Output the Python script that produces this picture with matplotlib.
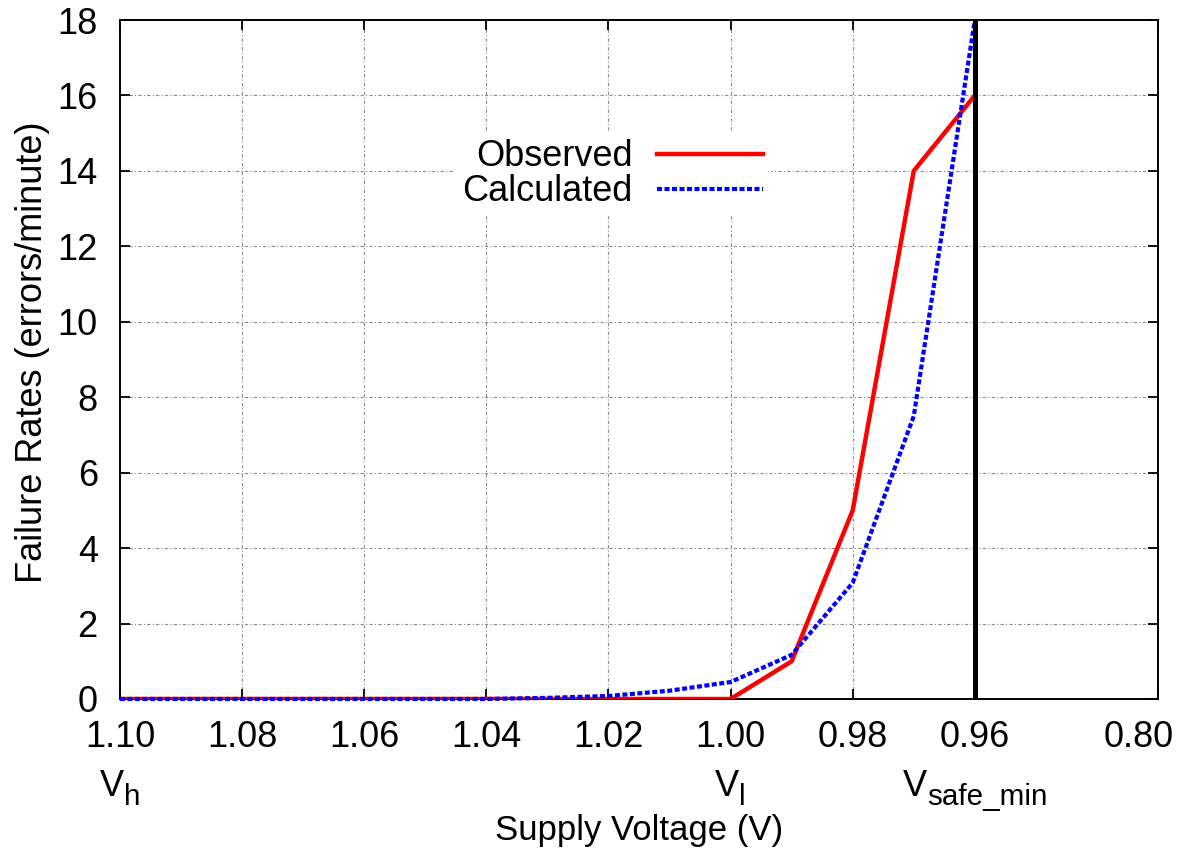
import matplotlib
matplotlib.use("Agg")
import matplotlib.pyplot as plt
import matplotlib.transforms as mtransforms

plt.rcParams['font.family'] = ['Liberation Sans', 'DejaVu Sans']

# supply voltage steps (V), high to low
VOLTS = [1.10, 1.09, 1.08, 1.07, 1.06, 1.05, 1.04, 1.03,
         1.02, 1.01, 1.00, 0.99, 0.98, 0.97, 0.96]
OBSERVED = [0, 0, 0, 0, 0, 0, 0, 0, 0, 0, 0, 1, 5, 14, 16]
CALCULATED = [0, 0, 0, 0, 0, 0, 0, 0.03, 0.08, 0.22, 0.45, 1.17, 3.08, 7.5, 18]

TICK_VOLTS = [1.10, 1.08, 1.06, 1.04, 1.02, 1.00, 0.98, 0.96]
BREAK_VOLT = 0.93          # axis end, labelled as 0.80
BREAK_LABEL = "0.80"
V_SAFE_MIN = 0.96
NAMED_VOLTS = [1.10, 1.00, 0.96]
NAMED_SUBS = ["h", "l", "safe_min"]
Y_TICKS = [0, 2, 4, 6, 8, 10, 12, 14, 16, 18]

FS = 26
DPI = 100

fig = plt.figure(figsize=(11.8, 8.58), dpi=DPI)
ax = fig.add_axes([120 / 1180, 1 - 699 / 858, 1038 / 1180, 679 / 858])

ax.plot(VOLTS, OBSERVED, color='red', lw=3.2, label='Observed',
        solid_joinstyle='miter', zorder=3)
ax.plot(VOLTS, CALCULATED, color='blue', lw=3.0, ls=(0, (1.2, 0.6)),
        label='Calculated', zorder=4, clip_on=False)
ax.axvline(V_SAFE_MIN, color='black', lw=3.6, zorder=5)

ax.set_xlim(1.10, BREAK_VOLT)
ax.set_ylim(0, 18)

ax.set_xticks(TICK_VOLTS + [BREAK_VOLT])
ax.set_xticklabels(["%.2f" % v for v in TICK_VOLTS] + [BREAK_LABEL])
ax.set_yticks(Y_TICKS)
ax.tick_params(direction='in', length=7, width=1.3, labelsize=FS,
               top=True, right=True)
ax.tick_params(axis='x', pad=15)
ax.tick_params(axis='y', pad=16)
# nudge the last (break) label so it stays inside the figure
last = ax.get_xticklabels()[-1]
last.set_transform(last.get_transform() +
                   mtransforms.ScaledTranslation(-19 / DPI, 0, fig.dpi_scale_trans))

for s in ax.spines.values():
    s.set_linewidth(1.4)

grid_kw = dict(color='#8a8a8a', lw=0.8, ls=(0, (3, 2, 1, 2)), zorder=1)
for v in TICK_VOLTS[1:]:
    ax.axvline(v, **grid_kw)
for y in Y_TICKS[1:-1]:
    ax.axhline(y, **grid_kw)

# voltage names (V with a large subscript) under the tick labels
trans = mtransforms.blended_transform_factory(ax.transData, ax.transAxes)
renderer = fig.canvas.get_renderer()
for v, sub in zip(NAMED_VOLTS, NAMED_SUBS):
    tm = ax.text(v, -0.1428, "V", transform=trans, ha='left', va='baseline',
                 fontsize=FS)
    ts = ax.text(v, -0.1428, sub, transform=trans, ha='left', va='baseline',
                 fontsize=FS * 0.82)
    wm = tm.get_window_extent(renderer).width
    ws = ts.get_window_extent(renderer).width
    x0 = -(wm + ws) / 2
    tm.set_transform(trans + mtransforms.ScaledTranslation(
        x0 / DPI, 0, fig.dpi_scale_trans))
    ts.set_transform(trans + mtransforms.ScaledTranslation(
        (x0 + wm) / DPI, -9 / DPI, fig.dpi_scale_trans))

ax.set_xlabel("Supply Voltage (V)", fontsize=25)
ax.xaxis.set_label_coords(0.5, -0.2077)
ax.xaxis.label.set_va('baseline')
ax.set_ylabel("Failure Rates (errors/minute)", fontsize=FS)
ax.yaxis.set_label_coords(-0.067, 0.51)

leg = ax.legend(loc='upper left', bbox_to_anchor=(0.323, 0.835),
                fontsize=FS, markerfirst=False, handlelength=2.95,
                handletextpad=0.67, labelspacing=0.0, borderpad=0.2,
                borderaxespad=0, fancybox=False, framealpha=1,
                facecolor='white', edgecolor='none')
for t in leg.get_texts():
    t.set_ha('right')
leg.set_zorder(6)

fig.savefig("out.png", dpi=DPI)
